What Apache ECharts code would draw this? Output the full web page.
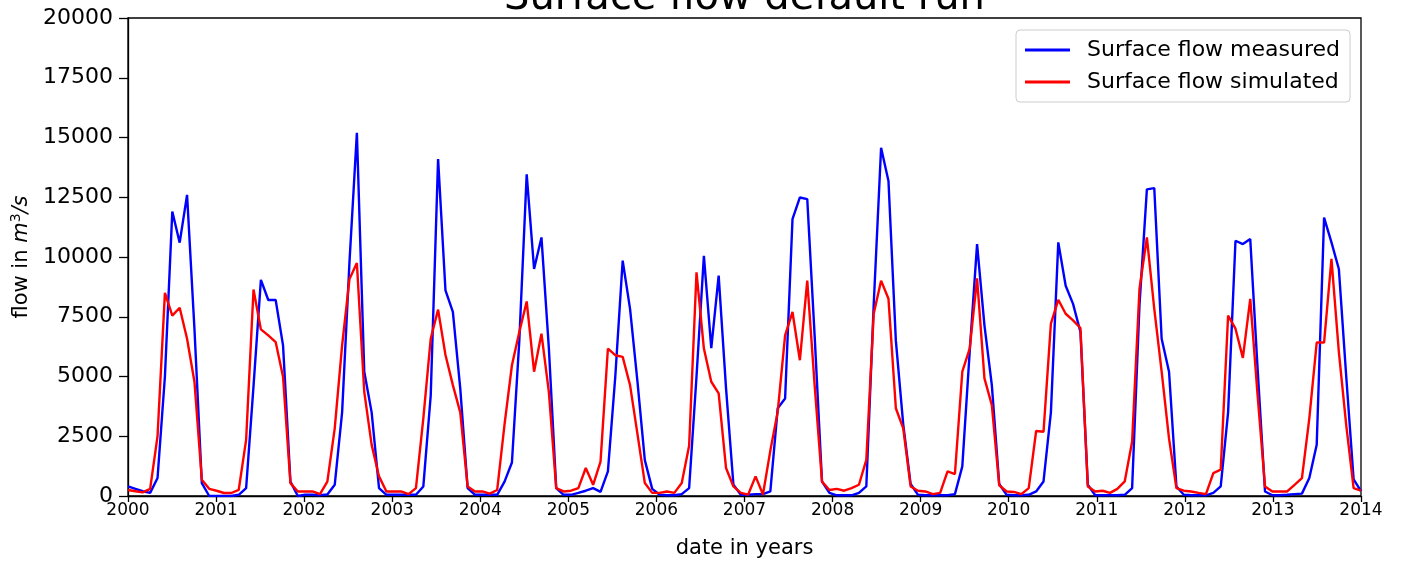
<!DOCTYPE html>
<html lang="en">
<head>
    <meta charset="UTF-8">
    <title>Surface flow default run</title>
    <script type="text/javascript" src="https://cdn.jsdelivr.net/npm/echarts@6/dist/echarts.min.js"></script>
    <style>
        body { margin: 0; background: #fff; }
    </style>
</head>
<body>
<div id="main" style="width: 1401px; height: 564px"></div>

<script type="text/javascript">
    var myChart = echarts.init(document.getElementById('main'));

    // monthly flow values, 168 points from 2000 to 2014
    var measured = [
        400, 300, 200, 130, 750, 5000, 11900, 10600, 12600, 7000, 540, 0,
        0, 0, 0, 50, 330, 4600, 9040, 8200, 8200, 6300, 600, 0,
        50, 50, 30, 60, 470, 3500, 9800, 15200, 5200, 3500, 330, 50,
        50, 50, 50, 50, 400, 4200, 14100, 8600, 7700, 4500, 330, 50,
        50, 50, 50, 600, 1400, 6500, 13460, 9500, 10820, 6200, 330, 50,
        50, 130, 220, 330, 170, 1030, 5000, 9850, 7830, 4800, 1500, 300,
        50, 30, 30, 80, 330, 5000, 10050, 6190, 9220, 4500, 470, 50,
        50, 80, 80, 190, 3670, 4080, 11580, 12490, 12420, 6700, 600, 130,
        30, 30, 30, 130, 400, 8000, 14570, 13180, 6500, 3000, 500, 50,
        30, 30, 30, 30, 80, 1240, 6030, 10540, 7140, 4640, 500, 50,
        30, 30, 50, 190, 610, 3500, 10610, 8800, 8040, 6860, 470, 30,
        30, 30, 30, 50, 330, 8000, 12830, 12880, 6580, 5200, 400, 50,
        30, 30, 30, 130, 400, 3500, 10680, 10540, 10750, 5300, 190, 30,
        30, 50, 80, 100, 750, 2140, 11650, 10610, 9500, 5000, 700, 200
    ];
    var simulated = [
        250, 200, 150, 300, 2500, 8500, 7550, 7875, 6580, 4780, 680, 300,
        220, 125, 125, 260, 2350, 8640, 6970, 6720, 6440, 4990, 540, 190,
        190, 190, 80, 600, 2830, 6300, 9080, 9750, 4360, 2140, 820, 190,
        190, 190, 80, 330, 3250, 6580, 7800, 5900, 4640, 3500, 400, 190,
        190, 100, 250, 3000, 5470, 6860, 8140, 5200, 6790, 4360, 330, 190,
        220, 330, 1170, 470, 1440, 6170, 5890, 5820, 4640, 2600, 540, 130,
        130, 190, 130, 540, 2100, 9360, 6170, 4780, 4290, 1170, 400, 130,
        60, 820, 60, 1900, 3530, 6720, 7700, 5680, 9010, 4640, 600, 250,
        300, 220, 330, 470, 1510, 7625, 9010, 8250, 3670, 2830, 400, 220,
        190, 80, 130, 1030, 920, 5200, 6170, 9110, 4920, 3800, 450, 190,
        170, 80, 330, 2720, 2690, 7210, 8210, 7625, 7350, 7030, 400, 190,
        220, 130, 300, 610, 2280, 8670, 10820, 7830, 5200, 2400, 330, 220,
        190, 130, 80, 960, 1100, 7550, 7000, 5780, 8250, 4200, 400, 190,
        190, 190, 470, 750, 3250, 6420, 6420, 9920, 6030, 2970, 330, 220
    ];
    var yearStart = 2000;
    var yearEnd = 2014;
    var yTicks = [0, 2500, 5000, 7500, 10000, 12500, 15000, 17500, 20000];

    // points are spread evenly between the two year limits
    var dates = [];
    for (var i = 0; i < measured.length; i++) {
        dates.push(yearStart + (yearEnd - yearStart) * i / (measured.length - 1));
    }
    function pairs(values) {
        var out = [];
        for (var i = 0; i < values.length; i++) {
            out.push([dates[i], values[i]]);
        }
        return out;
    }

    var font = 'DejaVu Sans';

    option = {
        animation: false,
        backgroundColor: '#fff',
        graphic: [{
            type: 'text',
            x: 744.5,
            y: 19,
            style: {
                text: 'Surface flow default run',
                font: '40px "DejaVu Sans"',
                fill: '#000',
                textAlign: 'center',
                textVerticalAlign: 'bottom'
            }
        }],
        legend: {
            orient: 'vertical',
            left: 1016,
            top: 30,
            padding: [9, 10, 9, 9],
            itemGap: 10,
            itemWidth: 45,
            itemHeight: 3,
            icon: 'rect',
            backgroundColor: '#fff',
            borderColor: '#cccccc',
            borderWidth: 1,
            borderRadius: 4,
            textStyle: { fontFamily: font, fontSize: 22, color: '#000', padding: [0, 0, 0, 12] },
            data: ['Surface flow measured', 'Surface flow simulated']
        },
        grid: {
            left: 128,
            right: 40,
            top: 18,
            bottom: 66,
            show: true,
            borderColor: '#000',
            borderWidth: 1.3
        },
        xAxis: {
            type: 'value',
            min: yearStart,
            max: yearEnd,
            interval: 1,
            name: 'date in years',
            nameLocation: 'middle',
            nameGap: 42,
            nameTextStyle: { fontFamily: font, fontSize: 21, color: '#000' },
            axisLine: { lineStyle: { color: '#000', width: 1.3 } },
            axisTick: { length: 6, lineStyle: { color: '#000', width: 1.3 } },
            axisLabel: {
                fontFamily: font, fontSize: 17, color: '#000', margin: 6,
                formatter: function (v) { return String(Math.round(v)); }
            },
            splitLine: { show: false }
        },
        yAxis: {
            type: 'value',
            min: yTicks[0],
            max: yTicks[yTicks.length - 1],
            interval: 2500,
            name: '{t|flow in }{i|m}{s|3}{i|/s}',
            nameLocation: 'middle',
            nameRotate: 90,
            nameGap: 93,
            nameTextStyle: {
                fontFamily: font, fontSize: 21, color: '#000',
                rich: {
                    t: { fontFamily: font, fontSize: 21, color: '#000' },
                    i: { fontFamily: font, fontSize: 21, fontStyle: 'italic', color: '#000' },
                    s: { fontFamily: font, fontSize: 14, color: '#000', verticalAlign: 'top', padding: [0, 0, 10, 0] }
                }
            },
            axisLine: { show: true, lineStyle: { color: '#000', width: 1.3 } },
            axisTick: { show: true, length: 9, lineStyle: { color: '#000', width: 1.3 } },
            axisLabel: {
                fontFamily: font, fontSize: 22, color: '#000', margin: 15,
                formatter: function (v) { return String(v); }
            },
            splitLine: { show: false }
        },
        series: [{
            name: 'Surface flow measured',
            type: 'line',
            data: pairs(measured),
            showSymbol: false,
            color: '#0000ff',
            lineStyle: { color: '#0000ff', width: 2.4 },
            z: 2
        }, {
            name: 'Surface flow simulated',
            type: 'line',
            data: pairs(simulated),
            showSymbol: false,
            color: '#ff0000',
            lineStyle: { color: '#ff0000', width: 2.4 },
            z: 3
        }]
    };

    myChart.setOption(option);
</script>
</body>
</html>
